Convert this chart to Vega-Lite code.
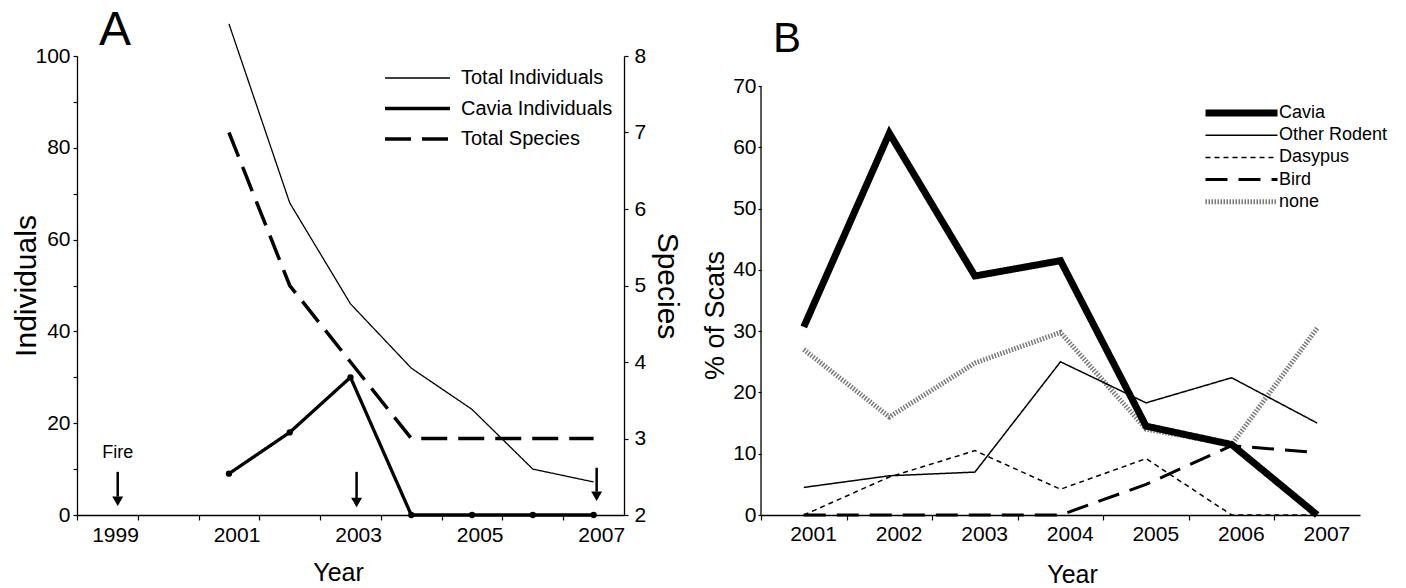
{
  "$schema": "https://vega.github.io/schema/vega-lite/v6.json",
  "padding": {"left": 11, "top": 7, "right": 5, "bottom": 0},
  "bounds": "flush",
  "spacing": 137,
  "resolve": {"scale": {"color": "independent", "strokeDash": "independent", "strokeWidth": "independent"}, "legend": {"color": "independent", "strokeDash": "independent", "strokeWidth": "independent"}},
  "config": {
    "font": "Liberation Sans",
    "view": {"stroke": null},
    "axis": {"grid": false, "domainColor": "black", "tickColor": "black", "labelColor": "black", "titleColor": "black", "titleFontWeight": "normal", "domainWidth": 1.3, "tickWidth": 1.2, "labelFontSize": 21, "labelFlush": false, "labelBound": false},
    "legend": {"labelColor": "black"},
    "title": {"color": "black"}
  },
  "datasets": {
    "indiv": [
      {"year": 2001, "series": "Total Individuals", "value": 107},
      {"year": 2002, "series": "Total Individuals", "value": 68},
      {"year": 2003, "series": "Total Individuals", "value": 46},
      {"year": 2004, "series": "Total Individuals", "value": 32},
      {"year": 2005, "series": "Total Individuals", "value": 23},
      {"year": 2006, "series": "Total Individuals", "value": 10},
      {"year": 2007, "series": "Total Individuals", "value": 7.2},
      {"year": 2001, "series": "Cavia Individuals", "value": 9},
      {"year": 2002, "series": "Cavia Individuals", "value": 18},
      {"year": 2003, "series": "Cavia Individuals", "value": 30},
      {"year": 2004, "series": "Cavia Individuals", "value": 0},
      {"year": 2005, "series": "Cavia Individuals", "value": 0},
      {"year": 2006, "series": "Cavia Individuals", "value": 0},
      {"year": 2007, "series": "Cavia Individuals", "value": 0}
    ],
    "species": [
      {"year": 2001, "series": "Total Species", "species": 7},
      {"year": 2002, "series": "Total Species", "species": 5},
      {"year": 2003, "series": "Total Species", "species": 4},
      {"year": 2004, "series": "Total Species", "species": 3},
      {"year": 2005, "series": "Total Species", "species": 3},
      {"year": 2006, "series": "Total Species", "species": 3},
      {"year": 2007, "series": "Total Species", "species": 3}
    ],
    "arrows": [
      {"year": 1999.17, "top": 9.4, "shaft": 4.0, "head": 3.0},
      {"year": 2003.1, "top": 9.4, "shaft": 3.7, "head": 2.7},
      {"year": 2007.05, "top": 10.3, "shaft": 5.1, "head": 4.1}
    ],
    "fire": [
      {"year": 1999.17, "value": 13.6, "label": "Fire"}
    ],
    "scats": [
      {"year": 2001, "series": "none", "pct": 27},
      {"year": 2002, "series": "none", "pct": 16},
      {"year": 2003, "series": "none", "pct": 24.8},
      {"year": 2004, "series": "none", "pct": 29.8},
      {"year": 2005, "series": "none", "pct": 14},
      {"year": 2006, "series": "none", "pct": 11.5},
      {"year": 2007, "series": "none", "pct": 30.5},
      {"year": 2001, "series": "Other Rodent", "pct": 4.5},
      {"year": 2002, "series": "Other Rodent", "pct": 6.4},
      {"year": 2003, "series": "Other Rodent", "pct": 7},
      {"year": 2004, "series": "Other Rodent", "pct": 25},
      {"year": 2005, "series": "Other Rodent", "pct": 18.3},
      {"year": 2006, "series": "Other Rodent", "pct": 22.4},
      {"year": 2007, "series": "Other Rodent", "pct": 15},
      {"year": 2001, "series": "Dasypus", "pct": 0},
      {"year": 2002, "series": "Dasypus", "pct": 6.2},
      {"year": 2003, "series": "Dasypus", "pct": 10.5},
      {"year": 2004, "series": "Dasypus", "pct": 4.2},
      {"year": 2005, "series": "Dasypus", "pct": 9.2},
      {"year": 2006, "series": "Dasypus", "pct": 0},
      {"year": 2007, "series": "Dasypus", "pct": 0},
      {"year": 2001, "series": "Bird", "pct": 0},
      {"year": 2002, "series": "Bird", "pct": 0},
      {"year": 2003, "series": "Bird", "pct": 0},
      {"year": 2004, "series": "Bird", "pct": 0},
      {"year": 2005, "series": "Bird", "pct": 5},
      {"year": 2006, "series": "Bird", "pct": 11.3},
      {"year": 2007, "series": "Bird", "pct": 10.2},
      {"year": 2001, "series": "Cavia", "pct": 30.7},
      {"year": 2002, "series": "Cavia", "pct": 62.3},
      {"year": 2003, "series": "Cavia", "pct": 39},
      {"year": 2004, "series": "Cavia", "pct": 41.5},
      {"year": 2005, "series": "Cavia", "pct": 14.5},
      {"year": 2006, "series": "Cavia", "pct": 11.5},
      {"year": 2007, "series": "Cavia", "pct": 0}
    ]
  },
  "hconcat": [
    {
      "width": 547,
      "height": 459,
      "title": {"text": "A", "fontSize": 48, "fontWeight": "normal", "anchor": "start", "frame": "group", "dx": 22, "offset": -34},
      "layer": [
        {
          "layer": [
            {
              "data": {"name": "indiv"},
              "mark": {"type": "line", "color": "black", "clip": false},
              "encoding": {
                "x": {"field": "year", "type": "quantitative", "title": "Year",
                  "scale": {"domain": [1998.5, 2007.5], "nice": false, "zero": false},
                  "axis": {"values": [1999, 2000, 2001, 2002, 2003, 2004, 2005, 2006, 2007],
                    "format": "d", "labelExpr": "datum.value % 2 === 1 ? datum.label : ''",
                    "tickOffset": -30.4, "labelOffset": 38,
                    "tickSize": 5, "labelPadding": 4, "titleFontSize": 25, "titlePadding": 15, "titleX": 261}},
                "y": {"field": "value", "type": "quantitative", "title": "Individuals",
                  "scale": {"domain": [0, 100], "nice": false},
                  "axis": {"values": [0, 10, 20, 30, 40, 50, 60, 70, 80, 90, 100], "labelExpr": "datum.value % 20 === 0 ? datum.label : ''",
                    "tickSize": 4, "labelPadding": 3, "titleFontSize": 30, "titlePadding": -7}},
                "strokeDash": {"field": "series", "type": "nominal",
                  "scale": {"domain": ["Total Individuals", "Cavia Individuals", "Total Species"], "range": [[1, 0], [1, 0], [26, 11]]},
                  "legend": {"orient": "none", "legendX": 306, "legendY": 8, "title": null, "symbolType": "stroke", "symbolSize": 4225, "clipHeight": 28, "rowPadding": 2.5, "labelFontSize": 20, "labelOffset": 9, "symbolStrokeColor": "black", "padding": 0}},
                "strokeWidth": {"field": "series", "type": "nominal",
                  "scale": {"type": "ordinal", "domain": ["Total Individuals", "Cavia Individuals", "Total Species"], "range": [1.3, 3.3, 3.5]},
                  "legend": {"orient": "none", "legendX": 306, "legendY": 8, "title": null, "symbolType": "stroke", "symbolSize": 4225, "clipHeight": 28, "rowPadding": 2.5, "labelFontSize": 20, "labelOffset": 9, "symbolStrokeColor": "black", "padding": 0}}
              }
            },
            {
              "data": {"name": "indiv"},
              "transform": [{"filter": "datum.series === 'Cavia Individuals'"}],
              "mark": {"type": "circle", "color": "black", "opacity": 1, "size": 40},
              "encoding": {
                "x": {"field": "year", "type": "quantitative", "title": "Year"},
                "y": {"field": "value", "type": "quantitative", "title": "Individuals"}
              }
            },
            {
              "data": {"name": "arrows"},
              "mark": {"type": "rule", "color": "black", "strokeWidth": 2.5},
              "encoding": {
                "x": {"field": "year", "type": "quantitative", "title": "Year"},
                "y": {"field": "top", "type": "quantitative", "title": "Individuals"},
                "y2": {"field": "shaft"}
              }
            },
            {
              "data": {"name": "arrows"},
              "mark": {"type": "point", "shape": "triangle-down", "filled": true, "color": "black", "opacity": 1, "size": 120},
              "encoding": {
                "x": {"field": "year", "type": "quantitative", "title": "Year"},
                "y": {"field": "head", "type": "quantitative", "title": "Individuals"}
              }
            },
            {
              "data": {"name": "fire"},
              "mark": {"type": "text", "fontSize": 18, "color": "black"},
              "encoding": {
                "x": {"field": "year", "type": "quantitative", "title": "Year"},
                "y": {"field": "value", "type": "quantitative", "title": "Individuals"},
                "text": {"field": "label"}
              }
            }
          ]
        },
        {
          "data": {"name": "species"},
          "mark": {"type": "line", "color": "black"},
          "encoding": {
            "x": {"field": "year", "type": "quantitative", "title": "Year"},
            "y": {"field": "species", "type": "quantitative", "title": "Species",
              "scale": {"domain": [2, 8], "nice": false, "zero": false},
              "axis": {"orient": "right", "values": [2, 3, 4, 5, 6, 7, 8], "tickSize": 4, "labelPadding": 6, "titleFontSize": 30, "titlePadding": 6}},
            "strokeDash": {"field": "series", "type": "nominal",
              "scale": {"domain": ["Total Individuals", "Cavia Individuals", "Total Species"], "range": [[1, 0], [1, 0], [26, 11]]},
              "legend": {"orient": "none", "legendX": 306, "legendY": 8, "title": null, "symbolType": "stroke", "symbolSize": 4225, "clipHeight": 28, "rowPadding": 2.5, "labelFontSize": 20, "labelOffset": 9, "symbolStrokeColor": "black", "padding": 0}},
            "strokeWidth": {"field": "series", "type": "nominal",
              "scale": {"type": "ordinal", "domain": ["Total Individuals", "Cavia Individuals", "Total Species"], "range": [1.3, 3.3, 3.5]},
              "legend": {"orient": "none", "legendX": 306, "legendY": 8, "title": null, "symbolType": "stroke", "symbolSize": 4225, "clipHeight": 28, "rowPadding": 2.5, "labelFontSize": 20, "labelOffset": 9, "symbolStrokeColor": "black", "padding": 0}}
          }
        }
      ],
      "resolve": {"scale": {"y": "independent"}}
    },
    {
      "width": 599,
      "height": 459,
      "title": {"text": "B", "fontSize": 42, "fontWeight": "normal", "anchor": "start", "frame": "group", "dx": 12, "offset": -5},
      "layer": [
        {
          "data": {"name": "scats"},
          "mark": {"type": "line", "strokeJoin": "miter", "clip": false},
          "encoding": {
            "x": {"field": "year", "type": "quantitative", "title": "Year",
              "scale": {"domain": [2000.5, 2007.5], "nice": false, "zero": false},
              "axis": {"values": [2001, 2002, 2003, 2004, 2005, 2006, 2007],
                "format": "d", "tickOffset": -42.8, "labelOffset": 52,
                "tickSize": 5, "labelPadding": 3, "titleFontSize": 25, "titlePadding": 18, "titleX": 311}},
            "y": {"field": "pct", "type": "quantitative", "title": "% of Scats",
              "scale": {"domain": [0, 74.9], "nice": false},
              "axis": {"values": [0, 10, 20, 30, 40, 50, 60, 70], "domain": false, "tickSize": 3, "labelPadding": 2, "titleFontSize": 27, "titlePadding": 3, "titleY": 259}},
            "color": {"field": "series", "type": "nominal",
              "scale": {"domain": ["Cavia", "Other Rodent", "Dasypus", "Bird", "none"], "range": ["black", "black", "black", "black", "#7a7a7a"]},
              "legend": {"orient": "none", "legendX": 441, "legendY": 47, "title": null, "symbolType": "stroke", "symbolSize": 5184, "clipHeight": 20, "rowPadding": 2.2, "labelFontSize": 18, "labelOffset": -2, "padding": 0}},
            "strokeDash": {"field": "series", "type": "nominal",
              "scale": {"domain": ["Cavia", "Other Rodent", "Dasypus", "Bird", "none"], "range": [[1, 0], [1, 0], [5, 4], [22, 11], [1.5, 1.5]]},
              "legend": {"orient": "none", "legendX": 441, "legendY": 47, "title": null, "symbolType": "stroke", "symbolSize": 5184, "clipHeight": 20, "rowPadding": 2.2, "labelFontSize": 18, "labelOffset": -2, "padding": 0}},
            "strokeWidth": {"field": "series", "type": "nominal",
              "scale": {"type": "ordinal", "domain": ["Cavia", "Other Rodent", "Dasypus", "Bird", "none"], "range": [7, 1.5, 1.5, 3, 5]},
              "legend": {"orient": "none", "legendX": 441, "legendY": 47, "title": null, "symbolType": "stroke", "symbolSize": 5184, "clipHeight": 20, "rowPadding": 2.2, "labelFontSize": 18, "labelOffset": -2, "padding": 0}}
          }
        },
        {
          "data": {"values": [{}]},
          "mark": {"type": "rule", "color": "black", "strokeWidth": 1.3},
          "encoding": {
            "x": {"datum": 2000.5, "type": "quantitative"},
            "y": {"datum": 0, "type": "quantitative"},
            "y2": {"datum": 70}
          }
        }
      ]
    }
  ]
}
